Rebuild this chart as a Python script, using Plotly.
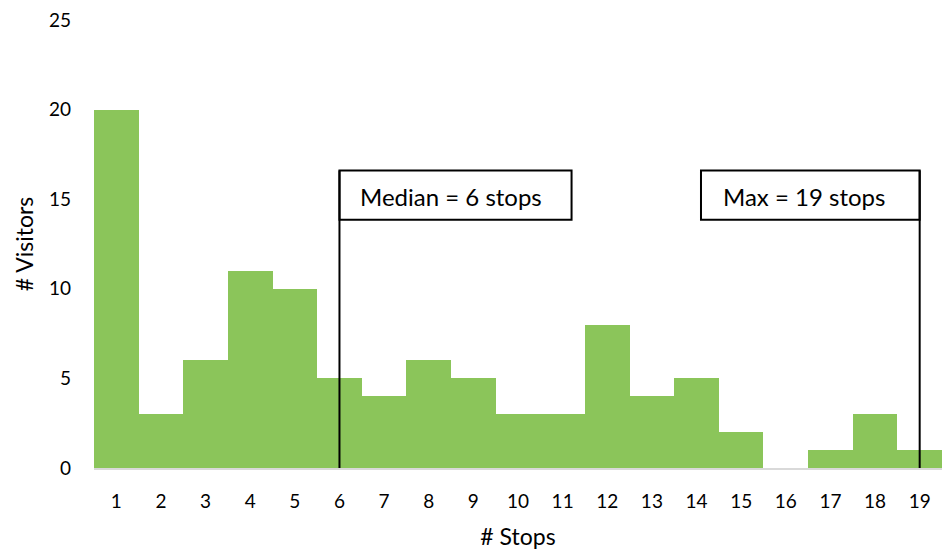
import plotly.graph_objects as go

# Number of stops per visitor and how many visitors made that many stops
stops = list(range(1, 20))
visitors = [20, 3, 6, 11, 10, 5, 4, 6, 5, 3, 3, 8, 4, 5, 2, 0, 1, 3, 1]

median_stops = 6
max_stops = 19

FONT = "Lato"
BAR_COLOR = "#8BC55A"

fig = go.Figure(
    go.Bar(
        x=stops,
        y=visitors,
        width=1,
        marker=dict(color=BAR_COLOR, line=dict(width=0)),
        hoverinfo="x+y",
    )
)

# Callout boxes (in x data units / y data units)
box_top, box_bottom = 16.6, 13.85
med_box_w, max_box_w = 5.2, 4.9

shapes = []
# Median: vertical line up from the axis, box extends to the right
shapes.append(dict(type="line", x0=median_stops, x1=median_stops, y0=0, y1=box_top,
                   line=dict(color="black", width=2)))
shapes.append(dict(type="rect", x0=median_stops, x1=median_stops + med_box_w,
                   y0=box_bottom, y1=box_top, line=dict(color="black", width=2),
                   fillcolor="rgba(255,255,255,0)"))
# Max: vertical line up from the axis, box extends to the left
shapes.append(dict(type="line", x0=max_stops, x1=max_stops, y0=0, y1=box_top,
                   line=dict(color="black", width=2)))
shapes.append(dict(type="rect", x0=max_stops - max_box_w, x1=max_stops,
                   y0=box_bottom, y1=box_top, line=dict(color="black", width=2),
                   fillcolor="rgba(255,255,255,0)"))

annotations = [
    dict(x=median_stops + med_box_w / 2 - 0.1, y=(box_top + box_bottom) / 2 - 0.05,
         text=f"Median = {median_stops} stops", showarrow=False,
         font=dict(family=FONT, size=24, color="black"), xref="x", yref="y"),
    dict(x=max_stops - max_box_w / 2 - 0.15, y=(box_top + box_bottom) / 2 - 0.05,
         text=f"Max = {max_stops} stops", showarrow=False,
         font=dict(family=FONT, size=24, color="black"), xref="x", yref="y"),
]

fig.update_layout(
    width=942,
    height=552,
    margin=dict(l=94, r=0, t=20, b=84),
    paper_bgcolor="white",
    plot_bgcolor="white",
    bargap=0,
    showlegend=False,
    shapes=shapes,
    annotations=annotations,
    font=dict(family=FONT, color="black", size=19),
    xaxis=dict(
        range=[0.5, 19.5],
        tickmode="array",
        tickvals=stops,
        ticktext=[str(s) for s in stops],
        showgrid=False,
        zeroline=False,
        showline=True,
        linecolor="#D9D9D9",
        linewidth=1.5,
        ticks="",
        ticklabelstandoff=15,
        tickfont=dict(family=FONT, size=19, color="black"),
        title=dict(text="# Stops", font=dict(family=FONT, size=23, color="black"), standoff=18),
    ),
    yaxis=dict(
        range=[0, 25],
        tickvals=[0, 5, 10, 15, 20, 25],
        showgrid=False,
        zeroline=False,
        showline=False,
        ticks="",
        ticklabelstandoff=22,
        tickfont=dict(family=FONT, size=19, color="black"),
        title=dict(text="# Visitors", font=dict(family=FONT, size=23, color="black"), standoff=8),
    ),
)

fig.write_html("out.html")
